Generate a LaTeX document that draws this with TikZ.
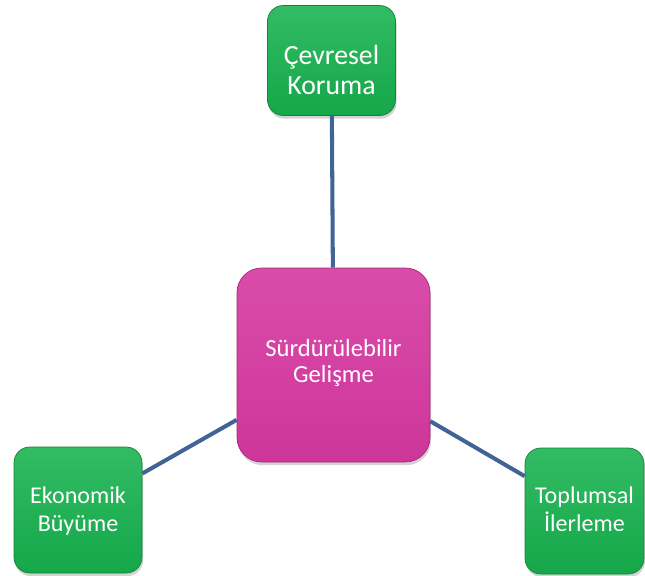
\documentclass[tikz,border=0pt]{standalone}
\usepackage{fontspec}
\setmainfont{Carlito}
\usetikzlibrary{shadows}
\definecolor{pillargreen}{RGB}{22,178,78}
\definecolor{hubpink}{RGB}{214,56,160}
\definecolor{linkblue}{RGB}{64,100,150}
\tikzstyle{pillar} = [rectangle, align=center, rounded corners=9pt, draw=pillargreen!75!black, line width=0.4pt, top color=pillargreen!88!white, bottom color=pillargreen!94!black, text=white, minimum width=2.56cm, minimum height=2.2cm, text depth=0pt, drop shadow={shadow xshift=0.6pt, shadow yshift=-1.8pt, opacity=0.35}]
\tikzstyle{hub} = [rectangle, align=center, rounded corners=14pt, draw=hubpink!75!black, line width=0.4pt, top color=hubpink!90!white, bottom color=hubpink!96!black, text=white, minimum width=3.86cm, minimum height=3.88cm, text depth=0pt, drop shadow={shadow xshift=0.6pt, shadow yshift=-1.8pt, opacity=0.35}]
\tikzstyle{link} = [draw=linkblue, line width=2.3pt]

\begin{document}
\begin{tikzpicture}
   \useasboundingbox (0,0) rectangle (12.9,-11.52);
   \node (Gelisme) at (6.67, -7.30) [hub, text height=20.4pt, font=\fontsize{14}{15}\selectfont] {Sürdürülebilir\\Gelişme};
   \node (Cevre) at (6.63, -1.21) [pillar, text height=39pt, font=\fontsize{15.8}{17.5}\selectfont] {Çevresel\\Koruma} edge[link] (Gelisme);
   \node (Ekonomi) at (1.56, -10.20) [pillar, minimum height=2.52cm, text height=25pt, font=\fontsize{13.7}{16.3}\selectfont] {Ekonomik\\Büyüme} edge[link] (Gelisme);
   \node (Toplum) at (11.69, -10.22) [pillar, minimum width=2.38cm, minimum height=2.52cm, text height=23.8pt, font=\fontsize{13.7}{16.3}\selectfont] {Toplumsal\\İlerleme} edge[link] (Gelisme);
\end{tikzpicture}
\end{document}
